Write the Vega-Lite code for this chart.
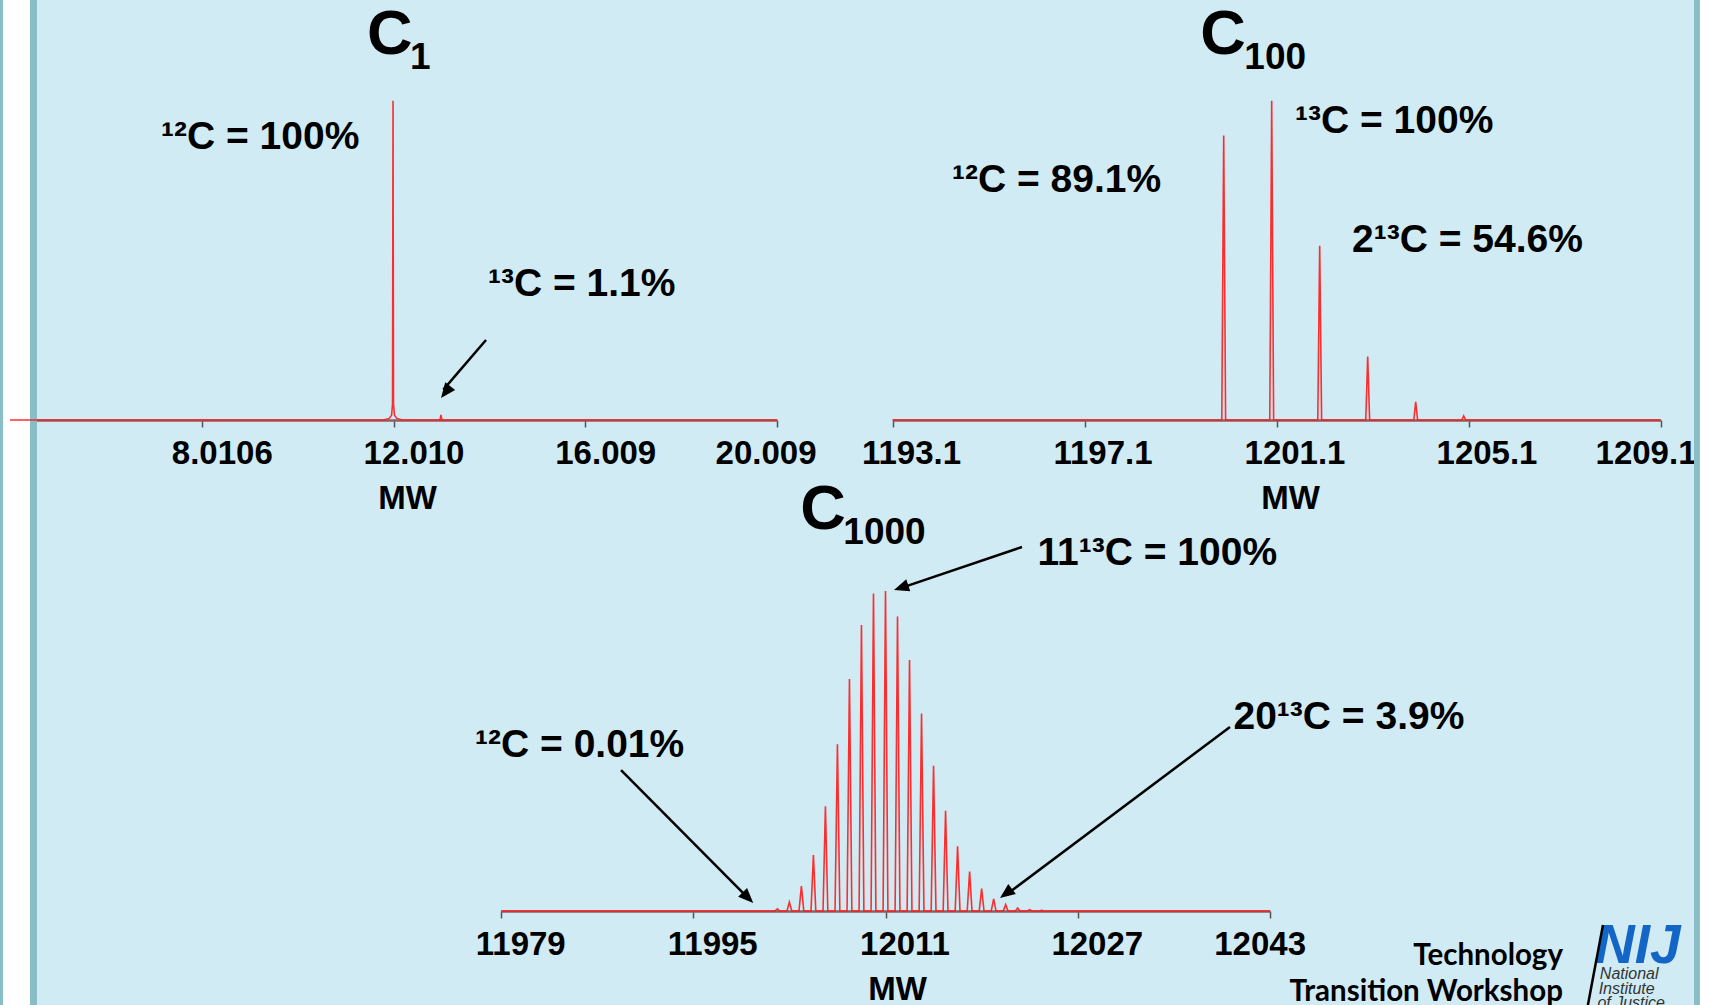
{
  "$schema": "https://vega.github.io/schema/vega-lite/v6.json",
  "background": "#d0ebf4",
  "padding": 0,
  "autosize": {"type": "none"},
  "width": 1710,
  "height": 1005,
  "config": {
    "view": {"stroke": null},
    "font": "Liberation Sans",
    "axisX": {
      "domainColor": "#8a6060",
      "domainWidth": 2.5,
      "tickColor": "#555555",
      "tickSize": 7,
      "tickWidth": 1.5,
      "labelFont": "Liberation Sans",
      "labelFontSize": 33,
      "labelFontWeight": "bold",
      "labelColor": "#000000",
      "labelPadding": 10,
      "labelOverlap": false,
      "labelBound": false,
      "titleFont": "Liberation Sans",
      "titleFontSize": 33,
      "titleFontWeight": "bold",
      "titleColor": "#000000",
      "titlePadding": 12,
      "grid": false
    }
  },
  "datasets": {
    "c1": [
      {"mw": 4.0107, "intensity": 0},
      {"mw": 11.8, "intensity": 0},
      {"mw": 11.92, "intensity": 0.5},
      {"mw": 11.97, "intensity": 1.5},
      {"mw": 11.99, "intensity": 5},
      {"mw": 12.0, "intensity": 100},
      {"mw": 12.01, "intensity": 5},
      {"mw": 12.03, "intensity": 1.5},
      {"mw": 12.08, "intensity": 0.5},
      {"mw": 12.2, "intensity": 0},
      {"mw": 12.98, "intensity": 0},
      {"mw": 13.0, "intensity": 1.6},
      {"mw": 13.02, "intensity": 0},
      {"mw": 20.009, "intensity": 0}
    ],
    "c100": [
      {"mw": 1193.1, "intensity": 0},
      {"mw": 1199.96, "intensity": 0},
      {"mw": 1200.0, "intensity": 89.1},
      {"mw": 1200.04, "intensity": 0},
      {"mw": 1200.96, "intensity": 0},
      {"mw": 1201.0, "intensity": 100},
      {"mw": 1201.04, "intensity": 0},
      {"mw": 1201.96, "intensity": 0},
      {"mw": 1202.0, "intensity": 54.6},
      {"mw": 1202.04, "intensity": 0},
      {"mw": 1202.96, "intensity": 0},
      {"mw": 1203.0, "intensity": 19.9},
      {"mw": 1203.04, "intensity": 0},
      {"mw": 1203.96, "intensity": 0},
      {"mw": 1204.0, "intensity": 5.7},
      {"mw": 1204.04, "intensity": 0},
      {"mw": 1204.96, "intensity": 0},
      {"mw": 1205.0, "intensity": 1.3},
      {"mw": 1205.04, "intensity": 0},
      {"mw": 1209.1, "intensity": 0}
    ],
    "c1000": [
      {"mw": 11979, "intensity": 0},
      {"mw": 12001.8, "intensity": 0}, {"mw": 12002, "intensity": 0.7}, {"mw": 12002.2, "intensity": 0},
      {"mw": 12002.8, "intensity": 0}, {"mw": 12003, "intensity": 2.8}, {"mw": 12003.2, "intensity": 0},
      {"mw": 12003.8, "intensity": 0}, {"mw": 12004, "intensity": 7.8}, {"mw": 12004.2, "intensity": 0},
      {"mw": 12004.8, "intensity": 0}, {"mw": 12005, "intensity": 17.5}, {"mw": 12005.2, "intensity": 0},
      {"mw": 12005.8, "intensity": 0}, {"mw": 12006, "intensity": 32.7}, {"mw": 12006.2, "intensity": 0},
      {"mw": 12006.8, "intensity": 0}, {"mw": 12007, "intensity": 52.1}, {"mw": 12007.2, "intensity": 0},
      {"mw": 12007.8, "intensity": 0}, {"mw": 12008, "intensity": 72.5}, {"mw": 12008.2, "intensity": 0},
      {"mw": 12008.8, "intensity": 0}, {"mw": 12009, "intensity": 89.4}, {"mw": 12009.2, "intensity": 0},
      {"mw": 12009.8, "intensity": 0}, {"mw": 12010, "intensity": 99.2}, {"mw": 12010.2, "intensity": 0},
      {"mw": 12010.8, "intensity": 0}, {"mw": 12011, "intensity": 100}, {"mw": 12011.2, "intensity": 0},
      {"mw": 12011.8, "intensity": 0}, {"mw": 12012, "intensity": 92.0}, {"mw": 12012.2, "intensity": 0},
      {"mw": 12012.8, "intensity": 0}, {"mw": 12013, "intensity": 78.4}, {"mw": 12013.2, "intensity": 0},
      {"mw": 12013.8, "intensity": 0}, {"mw": 12014, "intensity": 61.7}, {"mw": 12014.2, "intensity": 0},
      {"mw": 12014.8, "intensity": 0}, {"mw": 12015, "intensity": 45.4}, {"mw": 12015.2, "intensity": 0},
      {"mw": 12015.8, "intensity": 0}, {"mw": 12016, "intensity": 31.3}, {"mw": 12016.2, "intensity": 0},
      {"mw": 12016.8, "intensity": 0}, {"mw": 12017, "intensity": 20.2}, {"mw": 12017.2, "intensity": 0},
      {"mw": 12017.8, "intensity": 0}, {"mw": 12018, "intensity": 12.3}, {"mw": 12018.2, "intensity": 0},
      {"mw": 12018.8, "intensity": 0}, {"mw": 12019, "intensity": 7.0}, {"mw": 12019.2, "intensity": 0},
      {"mw": 12019.8, "intensity": 0}, {"mw": 12020, "intensity": 3.8}, {"mw": 12020.2, "intensity": 0},
      {"mw": 12020.8, "intensity": 0}, {"mw": 12021, "intensity": 2.0}, {"mw": 12021.2, "intensity": 0},
      {"mw": 12021.8, "intensity": 0}, {"mw": 12022, "intensity": 0.9}, {"mw": 12022.2, "intensity": 0},
      {"mw": 12022.8, "intensity": 0}, {"mw": 12023, "intensity": 0.4}, {"mw": 12023.2, "intensity": 0},
      {"mw": 12023.8, "intensity": 0}, {"mw": 12024, "intensity": 0.2}, {"mw": 12024.2, "intensity": 0},
      {"mw": 12043, "intensity": 0}
    ]
  },
  "resolve": {"scale": {"x": "independent", "y": "independent"}, "axis": {"x": "independent", "y": "independent"}},
  "layer": [
    {
      "layer": [
        {
          "data": {"values": [{}]},
          "mark": {"type": "rect", "color": "#89bec6"},
          "encoding": {
            "x": {"datum": 3.802, "type": "quantitative", "title": "MW"},
            "x2": {"datum": 3.865},
            "y": {"datum": -183.2, "type": "quantitative", "axis": null},
            "y2": {"datum": 131.54}
          }
        },
        {
          "data": {"values": [{}]},
          "mark": {"type": "rect", "color": "#ffffff"},
          "encoding": {
            "x": {"datum": 3.865, "type": "quantitative", "title": "MW"},
            "x2": {"datum": 4.428},
            "y": {"datum": -183.2, "type": "quantitative", "axis": null},
            "y2": {"datum": 131.54}
          }
        },
        {
          "data": {"values": [{}]},
          "mark": {"type": "rect", "color": "#89bec6"},
          "encoding": {
            "x": {"datum": 4.428, "type": "quantitative", "title": "MW"},
            "x2": {"datum": 4.574},
            "y": {"datum": -183.2, "type": "quantitative", "axis": null},
            "y2": {"datum": 131.54}
          }
        },
        {
          "data": {"name": "c1"},
          "mark": {"type": "line", "color": "#ff1a1a", "strokeWidth": 1.6, "opacity": 0.9},
          "encoding": {
            "x": {
              "field": "mw", "type": "quantitative", "title": "MW",
              "scale": {"domain": [4.0107, 20.009], "range": [10, 777], "nice": false, "zero": false},
              "axis": {
                "title": "MW",
                "orient": "bottom",
                "values": [8.0106, 12.010, 16.009, 20.009],
                "format": ".5g",
                "offset": -585,
                "titleX": 407,
                "labelOffset": 20,
                "labelFlush": 0.1,
                "labelFlushOffset": 19
              }
            },
            "y": {
              "field": "intensity", "type": "quantitative",
              "scale": {"domain": [0, 100], "range": [420, 100.7], "nice": false, "zero": false},
              "axis": null
            }
          }
        },
        {
          "data": {"values": [{}]},
          "mark": {"type": "text", "text": "C", "align": "left", "baseline": "alphabetic", "fontSize": 63, "fontWeight": "bold", "color": "#000000"},
          "encoding": {
            "x": {"datum": 11.457, "type": "quantitative", "title": "MW"},
            "y": {"datum": 114.5, "type": "quantitative", "axis": null}
          }
        },
        {
          "data": {"values": [{}]},
          "mark": {"type": "text", "text": "1", "align": "left", "baseline": "alphabetic", "fontSize": 37, "fontWeight": "bold", "color": "#000000", "dx": 43, "dy": 15},
          "encoding": {
            "x": {"datum": 11.457, "type": "quantitative", "title": "MW"},
            "y": {"datum": 114.5, "type": "quantitative", "axis": null}
          }
        },
        {
          "data": {"values": [{}]},
          "mark": {"type": "text", "text": "¹²C = 100%", "align": "left", "baseline": "alphabetic", "fontSize": 39, "fontWeight": "bold", "color": "#000000"},
          "encoding": {
            "x": {"datum": 7.16, "type": "quantitative", "title": "MW"},
            "y": {"datum": 84.72, "type": "quantitative", "axis": null}
          }
        },
        {
          "data": {"values": [{}]},
          "mark": {"type": "text", "text": "¹³C = 1.1%", "align": "left", "baseline": "alphabetic", "fontSize": 39, "fontWeight": "bold", "color": "#000000"},
          "encoding": {
            "x": {"datum": 13.981, "type": "quantitative", "title": "MW"},
            "y": {"datum": 38.68, "type": "quantitative", "axis": null}
          }
        },
        {
          "data": {"values": [{}]},
          "mark": {"type": "rule", "color": "#000000", "strokeWidth": 2.5},
          "encoding": {
            "x": {"datum": 13.939, "type": "quantitative", "title": "MW"},
            "y": {"datum": 25.05, "type": "quantitative", "axis": null},
            "x2": {"datum": 13.05},
            "y2": {"datum": 9.5}
          }
        },
        {
          "data": {"values": [{}]},
          "mark": {"type": "point", "shape": "M0,0L-0.42,1L0.42,1Z", "filled": true, "color": "#000000", "opacity": 1, "size": 900, "angle": 217.8, "strokeWidth": 0},
          "encoding": {
            "x": {"datum": 13.0007, "type": "quantitative", "title": "MW"},
            "y": {"datum": 6.89, "type": "quantitative", "axis": null}
          }
        }
      ]
    },
    {
      "layer": [
        {
          "data": {"values": [{}]},
          "mark": {"type": "rect", "color": "#89bec6"},
          "encoding": {
            "x": {"datum": 1209.798, "type": "quantitative", "title": "MW"},
            "x2": {"datum": 1209.922},
            "y": {"datum": -183.2, "type": "quantitative", "axis": null},
            "y2": {"datum": 131.54}
          }
        },
        {
          "data": {"values": [{}]},
          "mark": {"type": "rect", "color": "#ffffff"},
          "encoding": {
            "x": {"datum": 1209.922, "type": "quantitative", "title": "MW"},
            "x2": {"datum": 1210.13},
            "y": {"datum": -183.2, "type": "quantitative", "axis": null},
            "y2": {"datum": 131.54}
          }
        },
        {
          "data": {"name": "c100"},
          "mark": {"type": "line", "color": "#ff1a1a", "strokeWidth": 1.6, "opacity": 0.9},
          "encoding": {
            "x": {
              "field": "mw", "type": "quantitative", "title": "MW",
              "scale": {"domain": [1193.1, 1209.1], "range": [892.5, 1660.5], "nice": false, "zero": false},
              "axis": {
                "title": "MW",
                "orient": "bottom",
                "values": [1193.11, 1197.1, 1201.1, 1205.1, 1209.1],
                "format": ".5g",
                "offset": -585,
                "titleX": 1290,
                "labelOffset": 18,
                "labelFlush": 0.1,
                "labelFlushOffset": 17.5
              }
            },
            "y": {
              "field": "intensity", "type": "quantitative",
              "scale": {"domain": [0, 100], "range": [420, 100.7], "nice": false, "zero": false},
              "axis": null
            }
          }
        },
        {
          "data": {"values": [{}]},
          "mark": {"type": "text", "text": "C", "align": "left", "baseline": "alphabetic", "fontSize": 63, "fontWeight": "bold", "color": "#000000"},
          "encoding": {
            "x": {"datum": 1199.5125, "type": "quantitative", "title": "MW"},
            "y": {"datum": 114.5, "type": "quantitative", "axis": null}
          }
        },
        {
          "data": {"values": [{}]},
          "mark": {"type": "text", "text": "100", "align": "left", "baseline": "alphabetic", "fontSize": 37, "fontWeight": "bold", "color": "#000000", "dx": 44, "dy": 15},
          "encoding": {
            "x": {"datum": 1199.5125, "type": "quantitative", "title": "MW"},
            "y": {"datum": 114.5, "type": "quantitative", "axis": null}
          }
        },
        {
          "data": {"values": [{}]},
          "mark": {"type": "text", "text": "¹²C = 89.1%", "align": "left", "baseline": "alphabetic", "fontSize": 39, "fontWeight": "bold", "color": "#000000"},
          "encoding": {
            "x": {"datum": 1194.34, "type": "quantitative", "title": "MW"},
            "y": {"datum": 71.25, "type": "quantitative", "axis": null}
          }
        },
        {
          "data": {"values": [{}]},
          "mark": {"type": "text", "text": "¹³C = 100%", "align": "left", "baseline": "alphabetic", "fontSize": 39, "fontWeight": "bold", "color": "#000000"},
          "encoding": {
            "x": {"datum": 1201.485, "type": "quantitative", "title": "MW"},
            "y": {"datum": 89.73, "type": "quantitative", "axis": null}
          }
        },
        {
          "data": {"values": [{}]},
          "mark": {"type": "text", "text": "2¹³C = 54.6%", "align": "left", "baseline": "alphabetic", "fontSize": 39, "fontWeight": "bold", "color": "#000000"},
          "encoding": {
            "x": {"datum": 1202.673, "type": "quantitative", "title": "MW"},
            "y": {"datum": 52.77, "type": "quantitative", "axis": null}
          }
        }
      ]
    },
    {
      "layer": [
        {
          "data": {"name": "c1000"},
          "mark": {"type": "line", "color": "#ff1a1a", "strokeWidth": 1.6, "opacity": 0.9},
          "encoding": {
            "x": {
              "field": "mw", "type": "quantitative", "title": "MW",
              "scale": {"domain": [11979, 12043], "range": [501, 1270], "nice": false, "zero": false},
              "axis": {
                "title": "MW",
                "orient": "bottom",
                "values": [11979.02, 11995, 12011, 12027, 12043],
                "format": ".5g",
                "offset": -94,
                "titleX": 897,
                "labelOffset": 19,
                "labelFlush": 0.1,
                "labelFlushOffset": 16.5
              }
            },
            "y": {
              "field": "intensity", "type": "quantitative",
              "scale": {"domain": [0, 100], "range": [911, 591], "nice": false, "zero": false},
              "axis": null
            }
          }
        },
        {
          "data": {"values": [{}]},
          "mark": {"type": "text", "text": "C", "align": "left", "baseline": "alphabetic", "fontSize": 63, "fontWeight": "bold", "color": "#000000"},
          "encoding": {
            "x": {"datum": 12003.91, "type": "quantitative", "title": "MW"},
            "y": {"datum": 119.53, "type": "quantitative", "axis": null}
          }
        },
        {
          "data": {"values": [{}]},
          "mark": {"type": "text", "text": "1000", "align": "left", "baseline": "alphabetic", "fontSize": 37, "fontWeight": "bold", "color": "#000000", "dx": 43, "dy": 15},
          "encoding": {
            "x": {"datum": 12003.91, "type": "quantitative", "title": "MW"},
            "y": {"datum": 119.53, "type": "quantitative", "axis": null}
          }
        },
        {
          "data": {"values": [{}]},
          "mark": {"type": "text", "text": "11¹³C = 100%", "align": "left", "baseline": "alphabetic", "fontSize": 39, "fontWeight": "bold", "color": "#000000"},
          "encoding": {
            "x": {"datum": 12023.65, "type": "quantitative", "title": "MW"},
            "y": {"datum": 108.28, "type": "quantitative", "axis": null}
          }
        },
        {
          "data": {"values": [{}]},
          "mark": {"type": "text", "text": "¹²C = 0.01%", "align": "left", "baseline": "alphabetic", "fontSize": 39, "fontWeight": "bold", "color": "#000000"},
          "encoding": {
            "x": {"datum": 11976.84, "type": "quantitative", "title": "MW"},
            "y": {"datum": 47.97, "type": "quantitative", "axis": null}
          }
        },
        {
          "data": {"values": [{}]},
          "mark": {"type": "text", "text": "20¹³C = 3.9%", "align": "left", "baseline": "alphabetic", "fontSize": 39, "fontWeight": "bold", "color": "#000000"},
          "encoding": {
            "x": {"datum": 12039.96, "type": "quantitative", "title": "MW"},
            "y": {"datum": 57.03, "type": "quantitative", "axis": null}
          }
        },
        {
          "data": {"values": [{}]},
          "mark": {"type": "rule", "color": "#000000", "strokeWidth": 2.5},
          "encoding": {
            "x": {"datum": 12022.36, "type": "quantitative", "title": "MW"},
            "y": {"datum": 113.75, "type": "quantitative", "axis": null},
            "x2": {"datum": 12012.5},
            "y2": {"datum": 101.2}
          }
        },
        {
          "data": {"values": [{}]},
          "mark": {"type": "point", "shape": "M0,0L-0.42,1L0.42,1Z", "filled": true, "color": "#000000", "opacity": 1, "size": 900, "angle": 251.4, "strokeWidth": 0},
          "encoding": {
            "x": {"datum": 12011.71, "type": "quantitative", "title": "MW"},
            "y": {"datum": 100.31, "type": "quantitative", "axis": null}
          }
        },
        {
          "data": {"values": [{}]},
          "mark": {"type": "rule", "color": "#000000", "strokeWidth": 2.5},
          "encoding": {
            "x": {"datum": 11988.99, "type": "quantitative", "title": "MW"},
            "y": {"datum": 44.06, "type": "quantitative", "axis": null},
            "x2": {"datum": 11999.2},
            "y2": {"datum": 5.4}
          }
        },
        {
          "data": {"values": [{}]},
          "mark": {"type": "point", "shape": "M0,0L-0.42,1L0.42,1Z", "filled": true, "color": "#000000", "opacity": 1, "size": 900, "angle": 135.1, "strokeWidth": 0},
          "encoding": {
            "x": {"datum": 11999.99, "type": "quantitative", "title": "MW"},
            "y": {"datum": 2.5, "type": "quantitative", "axis": null}
          }
        },
        {
          "data": {"values": [{}]},
          "mark": {"type": "rule", "color": "#000000", "strokeWidth": 2.5},
          "encoding": {
            "x": {"datum": 12039.67, "type": "quantitative", "title": "MW"},
            "y": {"datum": 57.5, "type": "quantitative", "axis": null},
            "x2": {"datum": 12021.4},
            "y2": {"datum": 6.1}
          }
        },
        {
          "data": {"values": [{}]},
          "mark": {"type": "point", "shape": "M0,0L-0.42,1L0.42,1Z", "filled": true, "color": "#000000", "opacity": 1, "size": 900, "angle": 233.3, "strokeWidth": 0},
          "encoding": {
            "x": {"datum": 12020.53, "type": "quantitative", "title": "MW"},
            "y": {"datum": 4.06, "type": "quantitative", "axis": null}
          }
        },
        {
          "data": {"values": [{}]},
          "mark": {"type": "text", "text": "Technology", "align": "right", "baseline": "alphabetic", "font": "Lato", "fontSize": 29.5, "fontWeight": "bold", "color": "#000000"},
          "encoding": {
            "x": {"datum": 12067.38, "type": "quantitative", "title": "MW"},
            "y": {"datum": -16.875, "type": "quantitative", "axis": null}
          }
        },
        {
          "data": {"values": [{}]},
          "mark": {"type": "text", "text": "Transition Workshop", "align": "right", "baseline": "alphabetic", "font": "Lato", "fontSize": 29.5, "fontWeight": "bold", "color": "#000000"},
          "encoding": {
            "x": {"datum": 12067.38, "type": "quantitative", "title": "MW"},
            "y": {"datum": -28.1, "type": "quantitative", "axis": null}
          }
        },
        {
          "data": {"values": [{}]},
          "mark": {"type": "text", "text": "NIJ", "align": "left", "baseline": "alphabetic", "fontSize": 55, "fontWeight": "bold", "fontStyle": "italic", "color": "#1466c6"},
          "encoding": {
            "x": {"datum": 12070.05, "type": "quantitative", "title": "MW"},
            "y": {"datum": -16.25, "type": "quantitative", "axis": null}
          }
        },
        {
          "data": {"values": [{}]},
          "mark": {"type": "rule", "color": "#000000", "strokeWidth": 2.5},
          "encoding": {
            "x": {"datum": 12070.71, "type": "quantitative", "title": "MW"},
            "y": {"datum": -4.375, "type": "quantitative", "axis": null},
            "x2": {"datum": 12069.38},
            "y2": {"datum": -30.94}
          }
        },
        {
          "data": {"values": [{}]},
          "mark": {"type": "text", "text": "National", "align": "left", "baseline": "alphabetic", "fontSize": 16, "fontStyle": "italic", "color": "#333333"},
          "encoding": {
            "x": {"datum": 12070.45, "type": "quantitative", "title": "MW"},
            "y": {"datum": -21.4, "type": "quantitative", "axis": null}
          }
        },
        {
          "data": {"values": [{}]},
          "mark": {"type": "text", "text": "Institute", "align": "left", "baseline": "alphabetic", "fontSize": 16, "fontStyle": "italic", "color": "#333333"},
          "encoding": {
            "x": {"datum": 12070.35, "type": "quantitative", "title": "MW"},
            "y": {"datum": -25.8, "type": "quantitative", "axis": null}
          }
        },
        {
          "data": {"values": [{}]},
          "mark": {"type": "text", "text": "of Justice", "align": "left", "baseline": "alphabetic", "fontSize": 16, "fontStyle": "italic", "color": "#333333"},
          "encoding": {
            "x": {"datum": 12070.25, "type": "quantitative", "title": "MW"},
            "y": {"datum": -30.2, "type": "quantitative", "axis": null}
          }
        }
      ]
    }
  ]
}
